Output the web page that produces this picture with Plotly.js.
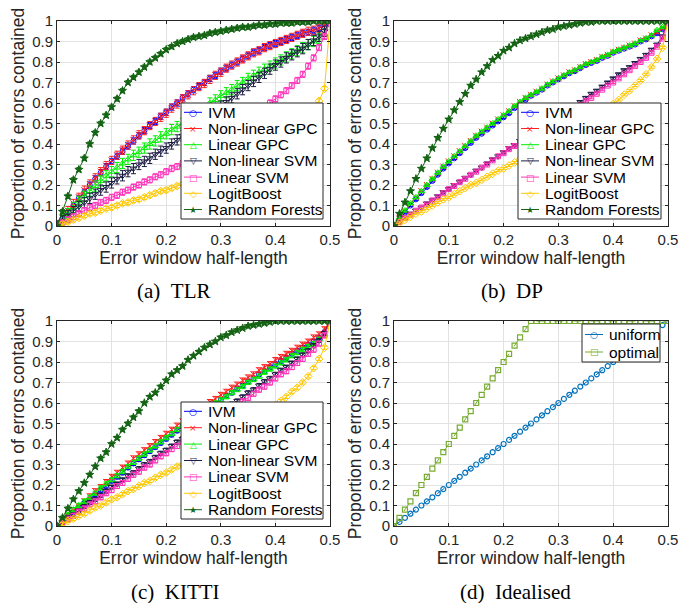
<!DOCTYPE html>
<html>
<head>
<meta charset="utf-8">
<script src="https://cdn.plot.ly/plotly-3.0.1.min.js"></script>
<style>html,body{margin:0;padding:0;background:#fff;}#chart{width:691px;height:603px;}</style>
</head>
<body>
<div id="chart"></div>
<script>
// ---- x positions (error window half-length) ----
const halfLength = [0,0.01,0.02,0.03,0.04,0.05,0.06,0.07,0.08,0.09,0.10,0.11,0.12,0.13,0.14,0.15,0.16,0.17,0.18,0.19,0.20,0.21,0.22,0.23,0.24,0.25,0.26,0.27,0.28,0.29,0.30,0.31,0.32,0.33,0.34,0.35,0.36,0.37,0.38,0.39,0.40,0.41,0.42,0.43,0.44,0.45,0.46,0.47,0.48,0.49,0.50];

const methodNames = ['IVM','Non-linear GPC','Linear GPC','Non-linear SVM','Linear SVM','LogitBoost','Random Forests'];

// ---- (a) TLR ----
const tlrIVM   = [0,.035,.07,.10,.135,.165,.20,.23,.26,.29,.315,.34,.365,.39,.415,.44,.465,.49,.51,.535,.555,.58,.60,.625,.645,.665,.68,.70,.72,.735,.755,.77,.785,.80,.815,.83,.845,.855,.87,.88,.89,.90,.91,.92,.93,.94,.945,.955,.965,.975,1.0];
const tlrNLGPC = [0,.04,.075,.11,.14,.175,.205,.235,.265,.295,.32,.345,.37,.395,.42,.445,.465,.49,.51,.53,.55,.575,.595,.62,.64,.66,.68,.695,.715,.735,.75,.77,.785,.80,.815,.83,.845,.855,.87,.88,.89,.90,.91,.92,.93,.94,.95,.955,.965,.98,1.0];
const tlrLGPC  = [0,.03,.06,.09,.12,.145,.17,.195,.22,.245,.265,.285,.305,.325,.345,.36,.38,.40,.415,.435,.45,.47,.485,.50,.52,.535,.55,.57,.60,.615,.635,.65,.665,.685,.70,.72,.735,.75,.765,.78,.795,.81,.825,.84,.855,.87,.885,.90,.915,.935,1.0];
const tlrNLSVM = [0,.025,.05,.07,.095,.115,.135,.155,.175,.19,.21,.23,.245,.265,.28,.30,.315,.33,.35,.365,.38,.40,.42,.44,.46,.48,.50,.52,.54,.565,.585,.605,.625,.645,.665,.685,.705,.725,.745,.765,.785,.80,.82,.835,.85,.865,.885,.905,.925,.95,1.0];
const tlrLSVM  = [0,.015,.03,.045,.06,.075,.09,.10,.115,.125,.14,.15,.165,.175,.19,.20,.215,.225,.24,.25,.265,.28,.29,.305,.32,.335,.35,.365,.38,.40,.42,.435,.45,.47,.49,.51,.53,.555,.575,.60,.62,.64,.66,.685,.71,.74,.78,.82,.87,.925,1.0];
const tlrLB    = [0,.01,.02,.03,.04,.05,.06,.065,.075,.085,.09,.10,.11,.115,.125,.13,.14,.15,.16,.17,.175,.185,.195,.205,.215,.225,.235,.245,.255,.265,.275,.285,.295,.305,.315,.325,.34,.35,.365,.38,.395,.41,.425,.445,.465,.49,.52,.56,.61,.67,1.0];
const tlrRF    = [0,.07,.145,.225,.275,.33,.40,.455,.50,.54,.58,.62,.66,.70,.725,.75,.775,.80,.82,.84,.86,.875,.89,.90,.91,.92,.925,.93,.94,.945,.95,.955,.96,.965,.97,.97,.975,.98,.98,.985,.985,.99,.99,.99,.995,.995,.995,1,1,1,1];
const tlrErr   = [0.015,0.02,0.025,0.025,0.015,0.01,0.01];

// ---- (b) DP ----
const dpIVM   = [0,.03,.065,.10,.13,.16,.19,.22,.25,.28,.305,.33,.355,.38,.405,.43,.45,.47,.49,.51,.53,.55,.575,.595,.615,.635,.65,.665,.685,.70,.715,.73,.745,.755,.77,.785,.795,.805,.82,.83,.845,.855,.865,.875,.885,.90,.91,.925,.94,.96,1.0];
const dpNLGPC = [0,.04,.075,.11,.14,.17,.20,.23,.26,.29,.315,.34,.365,.39,.415,.44,.46,.48,.50,.52,.54,.56,.585,.605,.625,.64,.655,.67,.69,.705,.72,.735,.75,.76,.775,.79,.80,.81,.825,.835,.85,.86,.87,.88,.89,.905,.915,.93,.945,.965,1.0];
const dpLGPC  = [0,.04,.075,.11,.14,.17,.20,.23,.26,.29,.315,.34,.365,.39,.415,.44,.46,.48,.50,.52,.54,.56,.585,.605,.625,.64,.655,.67,.69,.705,.72,.735,.75,.76,.775,.79,.80,.81,.825,.835,.85,.86,.87,.88,.89,.905,.915,.93,.955,.97,1.0];
const dpNLSVM = [0,.02,.04,.06,.075,.09,.11,.125,.145,.165,.18,.20,.215,.235,.25,.27,.285,.305,.325,.34,.36,.38,.395,.415,.43,.45,.465,.485,.50,.52,.535,.55,.57,.59,.605,.625,.645,.66,.68,.70,.72,.74,.76,.775,.795,.815,.835,.86,.885,.925,1.0];
const dpLSVM  = [0,.02,.04,.055,.075,.09,.105,.125,.14,.16,.18,.195,.215,.23,.25,.265,.285,.30,.32,.34,.355,.375,.39,.41,.425,.44,.46,.475,.49,.51,.525,.54,.56,.575,.59,.61,.625,.645,.665,.685,.70,.72,.74,.76,.78,.80,.82,.845,.875,.915,1.0];
const dpLB    = [0,.015,.03,.045,.06,.07,.085,.10,.115,.13,.14,.155,.17,.185,.20,.21,.225,.24,.255,.27,.28,.295,.31,.325,.34,.35,.365,.38,.395,.41,.425,.44,.455,.47,.485,.50,.52,.535,.555,.575,.595,.615,.64,.66,.685,.71,.74,.775,.815,.87,1.0];
const dpRF    = [0,.06,.115,.17,.23,.28,.33,.38,.43,.475,.52,.565,.605,.645,.685,.715,.75,.78,.81,.83,.855,.87,.89,.905,.915,.925,.935,.945,.955,.96,.97,.975,.98,.985,.99,.995,.995,1,1,1,1,1,1,1,1,1,1,1,1,1,1];
const dpErr   = [0.005,0.005,0.005,0.005,0.005,0.005,0.005];

// ---- (c) KITTI ----
const kittiIVM   = [0,.02,.045,.065,.09,.11,.13,.155,.175,.195,.22,.24,.26,.285,.305,.325,.345,.365,.385,.405,.425,.445,.465,.485,.505,.52,.54,.56,.58,.595,.615,.635,.65,.67,.685,.705,.72,.74,.755,.775,.79,.805,.82,.84,.855,.87,.885,.90,.92,.945,1.0];
const kittiNLGPC = [0,.025,.05,.075,.095,.12,.145,.17,.19,.215,.24,.26,.285,.305,.33,.35,.37,.39,.41,.43,.45,.47,.49,.51,.53,.55,.565,.585,.605,.62,.64,.655,.675,.69,.71,.725,.74,.76,.775,.79,.81,.825,.84,.855,.87,.885,.90,.92,.935,.96,1.0];
const kittiLGPC  = [0,.03,.055,.08,.10,.12,.14,.16,.185,.205,.225,.245,.265,.29,.31,.33,.35,.37,.39,.41,.43,.45,.47,.49,.505,.525,.545,.56,.58,.60,.615,.63,.65,.665,.68,.70,.715,.73,.75,.765,.78,.795,.81,.83,.845,.86,.875,.89,.91,.935,1.0];
const kittiNLSVM = [0,.02,.04,.055,.075,.095,.115,.13,.15,.17,.19,.205,.225,.245,.26,.28,.30,.315,.335,.355,.37,.39,.41,.425,.445,.465,.48,.50,.52,.54,.555,.575,.595,.61,.63,.65,.665,.685,.705,.72,.74,.76,.775,.795,.815,.835,.855,.88,.905,.94,1.0];
const kittiLSVM  = [0,.02,.035,.05,.07,.085,.105,.12,.14,.16,.175,.195,.21,.23,.25,.265,.285,.30,.32,.34,.355,.375,.39,.41,.43,.445,.465,.48,.50,.52,.535,.555,.57,.59,.61,.625,.645,.665,.68,.70,.72,.74,.755,.775,.795,.815,.84,.86,.89,.93,1.0];
const kittiLB    = [0,.01,.025,.035,.05,.06,.075,.09,.10,.115,.13,.14,.155,.17,.18,.195,.21,.22,.235,.25,.26,.275,.29,.30,.315,.33,.345,.36,.375,.39,.405,.42,.435,.45,.465,.48,.50,.515,.54,.565,.59,.61,.63,.655,.675,.70,.73,.77,.815,.87,1.0];
const kittiRF    = [0,.04,.085,.13,.17,.21,.25,.29,.33,.36,.40,.43,.47,.50,.53,.56,.60,.63,.65,.68,.71,.74,.76,.78,.81,.83,.85,.87,.885,.90,.92,.93,.945,.955,.965,.975,.98,.985,.99,.995,1,1,1,1,1,1,1,1,1,1,1];
const kittiErr   = [0.01,0.012,0.01,0.01,0.012,0.008,0.008];

// ---- (d) Idealised ----
const idealNames = ['uniform','optimal'];
const idealUniform = [0,.02,.04,.06,.08,.10,.12,.14,.16,.18,.20,.22,.24,.26,.28,.30,.32,.34,.36,.38,.40,.42,.44,.46,.48,.50,.52,.54,.56,.58,.60,.62,.64,.66,.68,.70,.72,.74,.76,.78,.80,.82,.84,.86,.88,.90,.92,.94,.96,.98,1.0];
const idealOptimal = [0,.04,.08,.12,.16,.20,.24,.28,.32,.36,.40,.44,.48,.52,.56,.60,.64,.68,.72,.76,.80,.84,.88,.92,.96,1,1,1,1,1,1,1,1,1,1,1,1,1,1,1,1,1,1,1,1,1,1,1,1,1,1];

// ---- ticks and captions ----
const xTickVals = [0,0.1,0.2,0.3,0.4,0.5];
const yTickVals = [0,0.1,0.2,0.3,0.4,0.5,0.6,0.7,0.8,0.9,1];
const captions = ['(a)\u2002TLR','(b)\u2002DP','(c)\u2002KITTI','(d)\u2002Idealised'];

// ---- styles ----
const methodColors  = ['#0000ff','#ff2020','#00ee00','#1c1c44','#ff33bb','#ffc800','#146414'];
const methodSymbols = ['circle-open','x-thin-open','triangle-up-open','triangle-down-open','square-open','diamond-open','star'];
const methodGlyphs  = ['\u25CB','\u00D7','\u25B3','\u25BD','\u25A1','\u25C7','\u2605'];
const methodSizes   = [5,6,6,6,5,6,6];
const idealColors   = ['#0072bd','#77ac30'];
const idealSymbols  = ['circle-open','square-open'];
const idealGlyphs   = ['\u25CB','\u25A1'];

const W = 691, H = 603;
const px = v => v / W, py = v => 1 - v / H;

const panels = [
  {series:[tlrIVM,tlrNLGPC,tlrLGPC,tlrNLSVM,tlrLSVM,tlrLB,tlrRF], err:tlrErr, xa:'x', ya:'y'},
  {series:[dpIVM,dpNLGPC,dpLGPC,dpNLSVM,dpLSVM,dpLB,dpRF], err:dpErr, xa:'x2', ya:'y2'},
  {series:[kittiIVM,kittiNLGPC,kittiLGPC,kittiNLSVM,kittiLSVM,kittiLB,kittiRF], err:kittiErr, xa:'x3', ya:'y3'}
];

const traces = [];
panels.forEach(p => {
  p.series.forEach((ys, i) => {
    traces.push({
      type:'scatter', mode:'lines+markers', x:halfLength, y:ys,
      name:methodNames[i], xaxis:p.xa, yaxis:p.ya, showlegend:false,
      line:{color:methodColors[i], width:1},
      marker:{symbol:methodSymbols[i], size:methodSizes[i], color:methodColors[i], line:{color:methodColors[i], width:1}},
      error_y:{type:'constant', value:p.err[i], color:methodColors[i], thickness:1, width:2.5}
    });
  });
});
[idealUniform, idealOptimal].forEach((ys, i) => {
  traces.push({
    type:'scatter', mode:'lines+markers', x:halfLength, y:ys,
    name:idealNames[i], xaxis:'x4', yaxis:'y4', showlegend:false,
    line:{color:idealColors[i], width:1, dash:'dash'},
    marker:{symbol:idealSymbols[i], size:5, color:idealColors[i], line:{color:idealColors[i], width:1.2}}
  });
});

const FONT = 'Liberation Sans, Arial, Helvetica, sans-serif';
const INK = '#262626';
function xAxis(domain, anchor){
  return {domain:domain, anchor:anchor, range:[0,0.5], tickvals:xTickVals, ticktext:xTickVals.map(String),
    showgrid:true, gridcolor:'#e2e2e2', gridwidth:1, zeroline:false,
    showline:true, linecolor:INK, linewidth:1, mirror:'ticks',
    ticks:'inside', ticklen:3, tickcolor:INK, tickfont:{size:15, color:INK},
    title:{text:'Error window half-length', font:{size:17.5, color:INK}, standoff:2}};
}
function yAxis(domain, anchor){
  return {domain:domain, anchor:anchor, range:[0,1], tickvals:yTickVals, ticktext:yTickVals.map(String),
    showgrid:true, gridcolor:'#e2e2e2', gridwidth:1, zeroline:false,
    showline:true, linecolor:INK, linewidth:1, mirror:'ticks',
    ticks:'inside', ticklen:3, tickcolor:INK, tickfont:{size:15, color:INK},
    title:{text:'Proportion of errors contained', font:{size:17.5, color:INK}, standoff:3}};
}

// ---- legend boxes (drawn as layout shapes + annotations) ----
const shapes = [], annotations = [];
function addLegend(box, names, colors, glyphs, firstY, step){
  shapes.push({type:'rect', xref:'paper', yref:'paper', layer:'above',
    x0:px(box.l), x1:px(box.r), y0:py(box.b), y1:py(box.t),
    fillcolor:'#ffffff', line:{color:INK, width:1}});
  names.forEach((n, i) => {
    const yc = firstY + i * step;
    shapes.push({type:'line', xref:'paper', yref:'paper', layer:'above',
      x0:px(box.l + 3), x1:px(box.l + 21), y0:py(yc), y1:py(yc),
      line:{color:colors[i], width:1}});
    annotations.push({text:glyphs[i], x:px(box.l + 12), y:py(yc + 0.5), xref:'paper', yref:'paper',
      xanchor:'center', yanchor:'middle', showarrow:false,
      font:{family:'DejaVu Sans', size:9, color:colors[i]}});
    annotations.push({text:n, x:px(box.l + 25), y:py(yc), xref:'paper', yref:'paper',
      xanchor:'left', yanchor:'middle', showarrow:false,
      font:{family:FONT, size:15.5, color:'#000000'}});
  });
}
addLegend({l:181, r:323, t:103, b:219}, methodNames, methodColors, methodGlyphs, 112.3, 16.2);
addLegend({l:518, r:661, t:103, b:219}, methodNames, methodColors, methodGlyphs, 112.3, 16.2);
addLegend({l:181, r:323, t:402, b:519}, methodNames, methodColors, methodGlyphs, 411.3, 16.4);
addLegend({l:582, r:660, t:324, b:362}, idealNames, idealColors, idealGlyphs, 334.5, 17.5);

// ---- captions ----
[[173,291],[512,291],[175,592],[515,592]].forEach((c, i) => {
  annotations.push({text:captions[i], x:px(c[0]), y:py(c[1]), xref:'paper', yref:'paper',
    xanchor:'center', yanchor:'middle', showarrow:false,
    font:{family:'Liberation Serif, Times New Roman, serif', size:21, color:'#000000'}});
});

const colL = [57/W, 330/W], colR = [394/W, 668/W];
const rowT = [(H-226)/H, (H-21)/H], rowB = [(H-526)/H, (H-321)/H];

const layout = {
  width:W, height:H, margin:{l:0,r:0,t:0,b:0},
  paper_bgcolor:'#ffffff', plot_bgcolor:'#ffffff',
  font:{family:FONT, color:INK},
  showlegend:false,
  xaxis:xAxis(colL,'y'),  yaxis:yAxis(rowT,'x'),
  xaxis2:xAxis(colR,'y2'), yaxis2:yAxis(rowT,'x2'),
  xaxis3:xAxis(colL,'y3'), yaxis3:yAxis(rowB,'x3'),
  xaxis4:xAxis(colR,'y4'), yaxis4:yAxis(rowB,'x4'),
  shapes:shapes,
  annotations:annotations
};

Plotly.newPlot('chart', traces, layout, {staticPlot:true, displayModeBar:false});
</script>
</body>
</html>
